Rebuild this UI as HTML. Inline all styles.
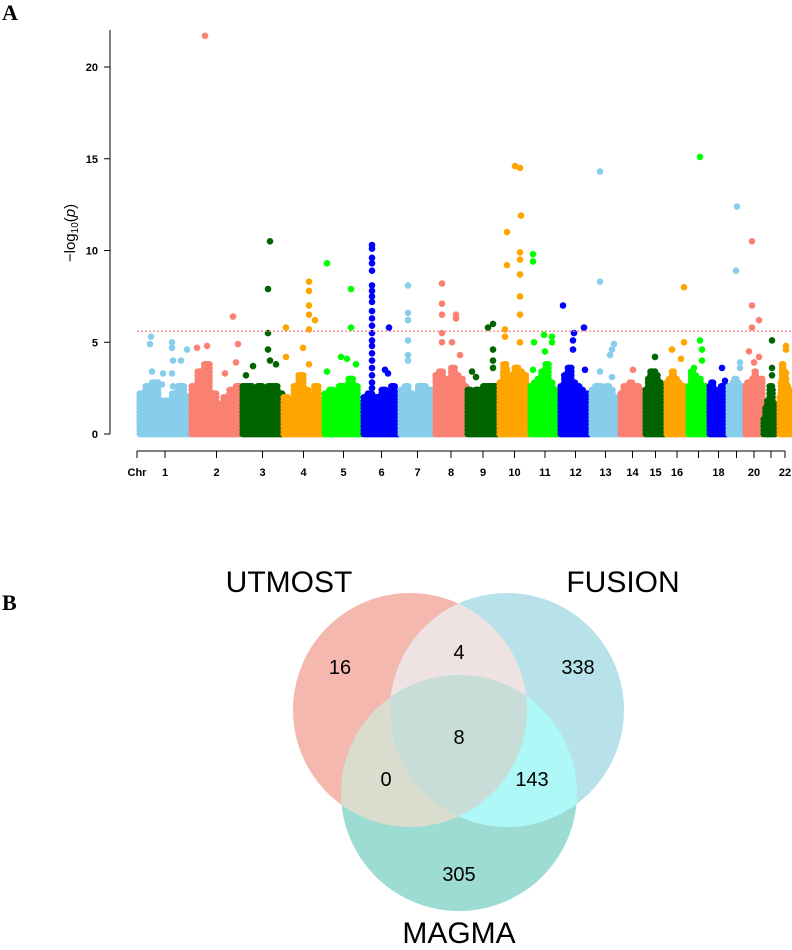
<!DOCTYPE html>
<html><head><meta charset="utf-8"><style>
html,body{margin:0;padding:0;background:#fff;}
svg text{font-family:"Liberation Sans",sans-serif;}
</style></head><body>
<svg width="792" height="945" viewBox="0 0 792 945" xmlns="http://www.w3.org/2000/svg">
<text x="2" y="20" font-weight="bold" font-size="22" style="font-family:'Liberation Serif',serif">A</text>
<text x="2" y="610" font-weight="bold" font-size="22" style="font-family:'Liberation Serif',serif">B</text>
<g id="manhattan"></g>
<g id="venn">
<defs>
<clipPath id="cU"><circle cx="410" cy="710" r="117"/></clipPath>
<clipPath id="cF"><circle cx="507" cy="710" r="117"/></clipPath>
<clipPath id="cM"><circle cx="459" cy="793" r="118"/></clipPath>
</defs>
<circle cx="410" cy="710" r="117" fill="#f5b8ae"/>
<circle cx="507" cy="710" r="117" fill="#b8e2ea"/>
<circle cx="459" cy="793" r="118" fill="#9ddcd2"/>
<g clip-path="url(#cU)"><circle cx="507" cy="710" r="117" fill="#efe2e2"/></g>
<g clip-path="url(#cU)"><circle cx="459" cy="793" r="118" fill="#dadcce"/></g>
<g clip-path="url(#cF)"><circle cx="459" cy="793" r="118" fill="#aef8f8"/></g>
<g clip-path="url(#cU)"><g clip-path="url(#cF)"><circle cx="459" cy="793" r="118" fill="#c8ddd8"/></g></g>
<g font-size="30" fill="#000">
<text x="289" y="592" text-anchor="middle">UTMOST</text>
<text x="623" y="592" text-anchor="middle">FUSION</text>
<text x="459" y="943" text-anchor="middle">MAGMA</text>
</g>
<g font-size="20" text-anchor="middle" fill="#000">
<text x="340" y="674">16</text>
<text x="459" y="659">4</text>
<text x="578" y="674">338</text>
<text x="459" y="744">8</text>
<text x="386" y="786">0</text>
<text x="532" y="786">143</text>
<text x="459" y="881">305</text>
</g>
</g>
</svg>
<script>
const chrLen=[52,51,41,41,39,37,35,32,32,31,30,31,29,25,21,22,21,19,17,18,16,12];
const chrLabels=["1","2","3","4","5","6","7","8","9","10","11","12","13","14","15","16","","18","","20","","22"];
const bulkHeights=[[2.2,2.6,3.0,1.9,1.9,2.2,2.6,2.0],[2.6,3.5,4.0,2.3,1.6,2.0,2.5,2.8],[2.6,2.8,2.4,2.6,2.2,2.8,2.6,2.2],[2.0,1.8,2.8,3.4,2.5,2.0,2.6,1.8],[2.2,2.4,2.2,2.6,2.8,3.2,2.6,1.6],[2.0,2.2,2.1,2.0,2.4,2.2,2.6,2.2],[2.5,2.6,2.2,2.0,2.6,2.8,2.4,2.2],[3.3,3.5,3.0,3.2,3.8,3.4,3.2,2.8],[2.4,1.8,2.4,2.2,2.6,2.6,2.8,2.6],[3.0,4.0,3.4,3.0,3.8,3.6,3.4,2.8],[2.6,3.0,3.2,3.5,4.0,3.0,2.4,2.2],[2.8,3.4,3.8,3.0,2.6,2.4,2.2,2.0],[2.4,2.8,2.6,2.2,2.8,2.4,2.0,1.8],[2.2,2.6,2.8,3.0,2.8,2.6,2.4,2.2],[2.4,3.2,3.5,3.0,3.4,3.0,2.6,2.4],[3.0,3.2,3.6,3.2,3.0,2.6,2.8,2.4],[2.8,3.6,3.4,3.0,3.2,2.8,2.6,2.4],[2.6,3.0,2.4,2.2,2.4,2.6,2.8,2.6],[2.6,2.8,3.0,3.2,3.0,2.8,2.8,2.6],[2.6,3.0,2.8,3.2,3.6,3.2,3.0,3.2],[0.8,1.4,1.8,2.8,2.4,1.6,-1,-1],[2.0,3.0,4.0,3.5,3.2,2.6,2.4,2.0]];
// [chromosome, position within chromosome, -log10 p]
const snps=[[1,12,5.3],[1,11,4.9],[1,33,5.0],[1,33,4.7],[1,34,4.0],[1,42,4.0],[1,48,4.6],[1,24,3.3],[1,33,3.3],[1,13,3.4],[1,23,2.7],[1,34,2.6],
[2,14,21.7],[2,42,6.4],[2,47,4.9],[2,6,4.7],[2,16,4.8],[2,45,3.9],[2,34,3.3],
[3,28,10.5],[3,26,7.9],[3,26,5.5],[3,26,4.6],[3,28,4.0],[3,34,3.8],[3,11,3.7],[3,4,3.2],
[4,3,5.8],[4,26,8.3],[4,26,7.8],[4,26,7.0],[4,26,6.5],[4,32,6.2],[4,26,5.7],[4,20,4.7],[4,3,4.2],[4,26,3.8],
[5,3,9.3],[5,27,7.9],[5,27,5.8],[5,17,4.2],[5,23,4.1],[5,32,3.8],[5,3,3.4],
[6,9,10.3],[6,9,10.1],[6,9,9.6],[6,9,9.3],[6,9,8.9],[6,9,8.1],[6,9,7.8],[6,9,7.5],[6,9,7.2],[6,9,6.7],[6,9,6.3],[6,9,5.9],[6,9,5.5],[6,9,5.1],[6,9,4.8],[6,9,4.4],[6,9,4.0],[6,9,3.6],[6,9,3.2],[6,9,2.8],[6,9,2.5],[6,26,5.8],[6,22,3.5],[6,25,3.3],
[7,8,8.1],[7,8,6.6],[7,8,6.2],[7,8,5.1],[7,8,4.3],[7,8,4.0],
[8,7,8.2],[8,7,7.1],[8,7,6.5],[8,7,5.5],[8,7,5.0],[8,21,6.5],[8,21,6.3],[8,17,5.0],[8,25,4.3],
[9,21,5.8],[9,26,6.0],[9,26,4.6],[9,26,4.0],[9,26,3.6],[9,5,3.4],[9,9,3.1],
[10,8,11.0],[10,8,9.2],[10,16,14.6],[10,21,14.5],[10,22,11.9],[10,21,9.9],[10,21,9.5],[10,21,8.7],[10,21,7.5],[10,21,6.5],[10,6,5.7],[10,6,5.3],[10,21,5.0],[10,8,3.5],
[11,3,9.8],[11,3,9.4],[11,4,5.0],[11,14,5.4],[11,22,5.3],[11,22,5.0],[11,15,4.5],[11,3,3.5],
[12,3,7.0],[12,14,5.5],[12,24,5.8],[12,13,5.1],[12,13,4.6],[12,25,3.5],[12,10,3.0],
[13,9,14.3],[13,9,8.3],[13,23,4.9],[13,21,4.6],[13,19,4.3],[13,9,3.4],[13,21,3.1],
[14,13,3.5],[14,10,2.6],
[15,10,4.2],[15,10,3.4],
[16,6,4.6],[16,18,8.0],[16,18,5.0],[16,15,4.1],
[17,12,15.1],[17,12,5.1],[17,14,4.6],[17,14,4.0],[17,6,3.6],
[18,13,3.6],[18,16,2.9],
[19,8,8.9],[19,9,12.4],[19,12,3.9],[19,12,3.6],
[20,7,10.5],[20,7,7.0],[20,7,5.8],[20,14,6.2],[20,4,4.5],[20,9,3.9],[20,14,4.2],
[21,9,5.1],[21,9,3.6],[21,9,3.2],[21,9,2.6],
[22,7,4.8],[22,7,4.6],[22,7,3.3]];
const yTicks=[0,5,10,15,20];
const threshold=5.6;
const colors=["#87ceeb","#fa8072","#006400","#ffa500","#00ff00","#0000ff"];

const NS="http://www.w3.org/2000/svg";
const g=document.getElementById('manhattan');
const total=chrLen.reduce((a,b)=>a+b,0);
const X0=139,X1=791,Y0=434,YK=18.35;
const starts=[];let acc=0;chrLen.forEach(l=>{starts.push(acc);acc+=l;});
function xs(c,p){return X0+(starts[c-1]+p)/total*(X1-X0);}
function ys(v){return Y0-v*YK;}
function mk(t,a){const e=document.createElementNS(NS,t);for(const k in a)e.setAttribute(k,a[k]);g.appendChild(e);return e;}
bulkHeights.forEach((hs,ci)=>{
  const c=ci+1,len=chrLen[ci],col=colors[ci%6];
  for(let p=0.6;p<=len-0.6;p+=0.6){
    const seg=Math.min(hs.length-1,Math.floor(p/len*hs.length));
    const h=hs[seg];
    for(let v=0;v<=h;v+=0.2){
      const e=mk('circle',{cx:xs(c,p).toFixed(1),cy:ys(v).toFixed(1),r:3.2,fill:col});
      
      
    }
  }
});
snps.forEach(s=>{
  const e=mk('circle',{cx:xs(s[0],s[1]).toFixed(1),cy:ys(s[2]).toFixed(1),r:3.3,fill:colors[(s[0]-1)%6]});
  
  
});
let t=mk('line',{x1:137,x2:791,y1:ys(threshold),y2:ys(threshold),stroke:'#f08080','stroke-width':1.2,'stroke-dasharray':'2,2'});


let ya=mk('line',{x1:110,x2:110,y1:30,y2:ys(0),stroke:'#000','stroke-width':1});


yTicks.forEach(v=>{
  const l=mk('line',{x1:104,x2:110,y1:ys(v),y2:ys(v),stroke:'#000'});
  
  
  const tx=mk('text',{x:98,y:ys(v)+4,'text-anchor':'end','font-size':11,'font-weight':'bold'});
  tx.textContent=v;
  
  
});
const yl=mk('text',{x:0,y:0,transform:'translate(75,233) rotate(-90)','text-anchor':'middle','font-size':15});
yl.innerHTML='−log<tspan font-size="10" dy="3">10</tspan><tspan dy="-3">(</tspan><tspan font-style="italic">p</tspan>)';


let xa=mk('line',{x1:137,x2:xs(22,chrLen[21]/2),y1:451,y2:451,stroke:'#000'});


let t0=mk('line',{x1:137,x2:137,y1:451,y2:458,stroke:'#000'});


let ct=mk('text',{x:137,y:476,'text-anchor':'middle','font-size':11,'font-weight':'bold'});
ct.textContent='Chr';


chrLen.forEach((l,ci)=>{
  const x=xs(ci+1,l/2);
  const tk=mk('line',{x1:x,x2:x,y1:451,y2:458,stroke:'#000'});
  
  
  if(chrLabels[ci]){
    const tx=mk('text',{x:x,y:476,'text-anchor':'middle','font-size':11,'font-weight':'bold'});
    tx.textContent=chrLabels[ci];
    
    
  }
});
</script>
</body></html>
